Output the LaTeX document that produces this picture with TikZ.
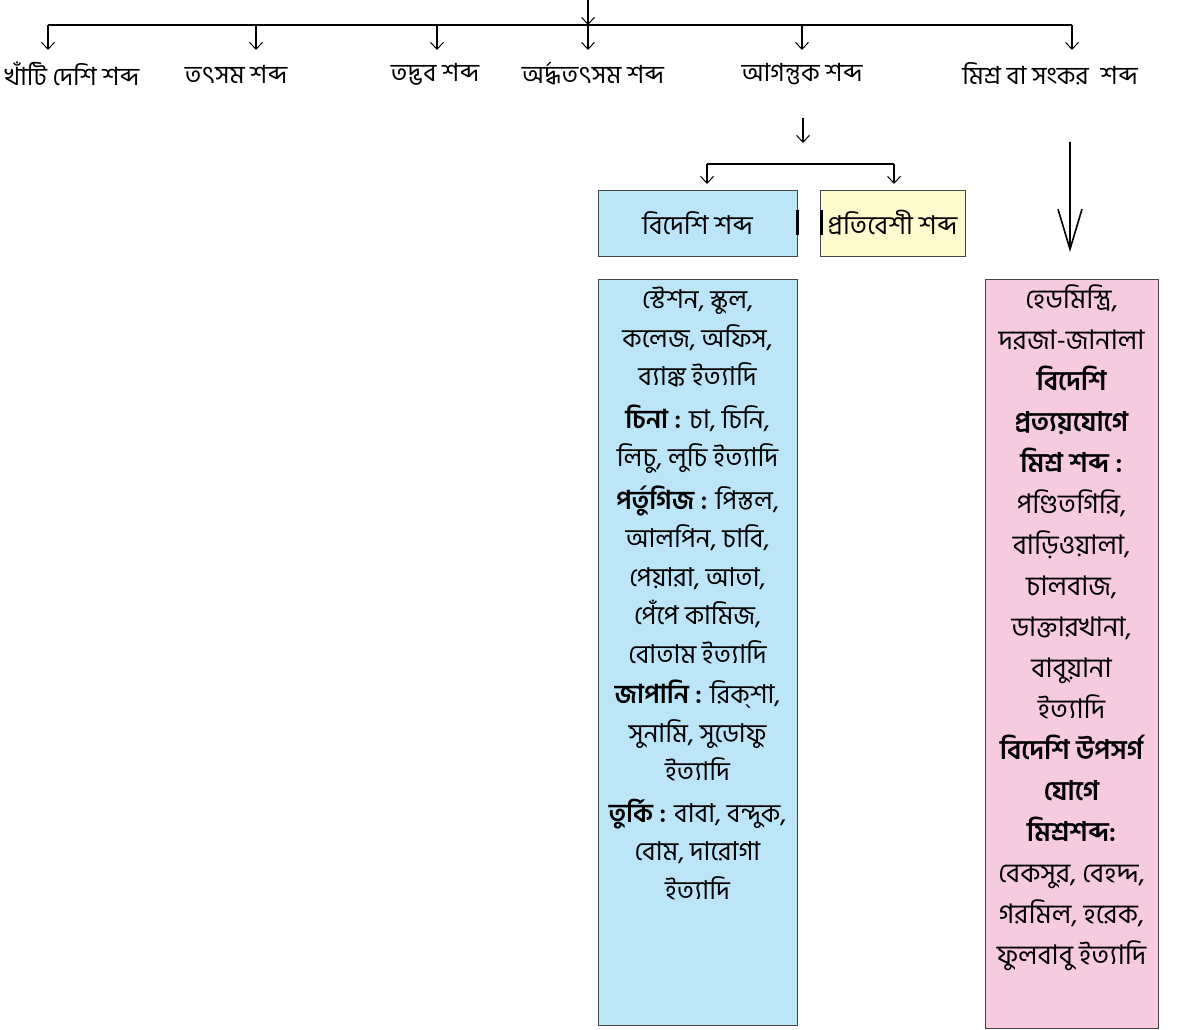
\documentclass[tikz,border=0pt]{standalone}
\usepackage{fontspec}
\newfontfamily\bn[Script=Bengali]{Hind Siliguri}
\usetikzlibrary{arrows.meta}
\definecolor{bluefill}{RGB}{189,229,248}
\definecolor{yellowfill}{RGB}{255,250,205}
\definecolor{pinkfill}{RGB}{246,202,223}
\definecolor{edge}{RGB}{70,70,70}
\begin{document}
\begin{tikzpicture}[x=1pt,y=-1pt,
  lbl/.style={font=\bn\fontsize{25}{28}\selectfont, inner sep=0pt, anchor=center},
  boxlbl/.style={font=\bn\fontsize{26}{28}\selectfont, inner sep=0pt, anchor=center},
  arr/.style={-{Straight Barb[length=7pt,width=13pt,line width=1pt]}, line width=1.1pt},
  bar/.style={line width=2.2pt},
  bluetxt/.style={font=\bn\fontsize{26}{38.5}\selectfont, align=center, inner sep=0pt},
  pinktxt/.style={font=\bn\fontsize{27}{41}\selectfont, align=center, inner sep=0pt},
  bx/.style={draw=edge, line width=0.8pt, inner sep=0pt},
  bigarr/.style={-{Straight Barb[length=40pt,width=24pt,line width=1.6pt]}, line width=1.6pt}]
\useasboundingbox (0,0) rectangle (1178,1030);

% ---- top level ----
\coordinate (top) at (588,0);
\coordinate (jn) at (588,25);
\coordinate (hl) at (48,25);
\coordinate (hr) at (1072,25);
\draw[arr] (top) -- (jn);
\draw[bar] (hl) -- (hr);

\node[lbl] (khati) at (72,74) {খাঁটি দেশি শব্দ};
\node[lbl] (tatsama) at (236,74) {তৎসম শব্দ};
\node[lbl] (tadbhava) at (435,74) {তদ্ভব শব্দ};
\node[lbl] (ardha) at (593,74) {অর্দ্ধতৎসম শব্দ};
\node[lbl] (agantuk) at (802,74) {আগন্তুক শব্দ};
\node[lbl] (mishra) at (1050,74) {মিশ্র বা সংকর\hspace{12pt}শব্দ};

\foreach \x/\n in {48/a1,256/a2,437/a3,588/a4,802/a5,1072/a6}{
  \coordinate (\n s) at (\x,25);
  \coordinate (\n e) at (\x,50);
  \draw[arr] (\n s) -- (\n e);
}

% ---- agantuk branch ----
\coordinate (ag1) at (803,118);
\coordinate (ag2) at (803,143);
\draw[arr] (ag1) -- (ag2);
\coordinate (brl) at (707,164);
\coordinate (brr) at (894,164);
\draw[line width=1.6pt] (brl) -- (brr);

\node[bx, fill=bluefill, minimum width=199pt, minimum height=66pt, boxlbl] (bideshi) at (697.5,223) {বিদেশি শব্দ};
\node[bx, fill=yellowfill, minimum width=145pt, minimum height=66pt, boxlbl] (prati) at (892.5,223) {প্রতিবেশী শব্দ};

\coordinate (brlb) at (707,184);
\coordinate (brrb) at (894,184);
\draw[arr] (brl) -- (brlb);
\draw[arr] (brr) -- (brrb);

% small dark marks at the box edges
\draw[line width=2.4pt] ([yshift=-12pt]bideshi.east) -- ([yshift=13pt]bideshi.east);
\draw[line width=2.4pt] ([xshift=2pt,yshift=-12pt]prati.west) -- ([xshift=2pt,yshift=13pt]prati.west);

% ---- big boxes ----
\coordinate (blueA) at (598,279);
\coordinate (blueB) at (797,1025);
\coordinate (pinkA) at (985,279);
\coordinate (pinkB) at (1158,1028);
\draw[bx, fill=bluefill] (blueA) rectangle (blueB);
\draw[bx, fill=pinkfill] (pinkA) rectangle (pinkB);

\node[bluetxt, anchor=north] (bluetext) at (697.5,287) {%
স্টেশন, স্কুল,\\
কলেজ, অফিস,\\
ব্যাঙ্ক ইত্যাদি\\[4pt]
{\bfseries চিনা :} চা, চিনি,\\
লিচু, লুচি ইত্যাদি\\[4pt]
{\bfseries পর্তুগিজ :} পিস্তল,\\
আলপিন, চাবি,\\
পেয়ারা, আতা,\\
পেঁপে কামিজ,\\
বোতাম ইত্যাদি\\[2pt]
{\bfseries জাপানি :} রিক্‌শা,\\
সুনামি, সুডোফু\\
ইত্যাদি\\[3pt]
{\bfseries তুর্কি :} বাবা, বন্দুক,\\
বোম, দারোগা\\
ইত্যাদি};

\node[pinktxt, anchor=north] (pinktext) at (1071.5,285) {%
হেডমিস্ত্রি,\\
দরজা-জানালা\\
{\bfseries বিদেশি}\\
{\bfseries প্রত্যয়যোগে}\\
{\bfseries মিশ্র শব্দ :}\\
পণ্ডিতগিরি,\\
বাড়িওয়ালা,\\
চালবাজ,\\
ডাক্তারখানা,\\
বাবুয়ানা\\
ইত্যাদি\\
{\bfseries বিদেশি উপসর্গ}\\
{\bfseries যোগে}\\
{\bfseries মিশ্রশব্দ:}\\
বেকসুর, বেহদ্দ,\\
গরমিল, হরেক,\\
ফুলবাবু ইত্যাদি};

% ---- big arrow to mishra box ----
\coordinate (ms1) at (1070,142);
\coordinate (ms2) at (1070,252);
\draw[bigarr] (ms1) -- (ms2);
\end{tikzpicture}
\end{document}
